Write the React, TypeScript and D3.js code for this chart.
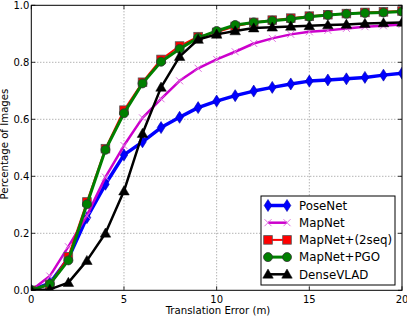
import React from 'react';
import * as d3 from 'd3';

const errors = d3.range(0, 21);
const poseNet = [0, 0.025, 0.112, 0.255, 0.372, 0.475, 0.521, 0.571, 0.607, 0.641, 0.664, 0.683, 0.699, 0.712, 0.724, 0.734, 0.738, 0.742, 0.747, 0.755, 0.762];
const mapNet = [0, 0.05, 0.153, 0.262, 0.397, 0.508, 0.605, 0.672, 0.735, 0.779, 0.81, 0.837, 0.866, 0.884, 0.898, 0.907, 0.912, 0.919, 0.925, 0.928, 0.933];
const mapNet2seq = [0, 0.02, 0.118, 0.31, 0.497, 0.632, 0.73, 0.81, 0.857, 0.89, 0.905, 0.926, 0.94, 0.948, 0.955, 0.962, 0.967, 0.971, 0.975, 0.977, 0.98];
const mapNetPGO = [0, 0.022, 0.105, 0.302, 0.493, 0.621, 0.726, 0.802, 0.847, 0.886, 0.91, 0.931, 0.94, 0.946, 0.952, 0.96, 0.966, 0.97, 0.973, 0.975, 0.978];
const denseVLAD = [0, 0.003, 0.027, 0.104, 0.2, 0.348, 0.55, 0.712, 0.82, 0.88, 0.898, 0.91, 0.92, 0.923, 0.926, 0.928, 0.931, 0.933, 0.936, 0.938, 0.94];

const xTicks = [0, 5, 10, 15, 20];
const yTicks = [0, 0.2, 0.4, 0.6, 0.8, 1.0];

const series = [
  { name: 'PoseNet', values: poseNet, color: '#0000ff', width: 3.5, marker: 'diamond' },
  { name: 'MapNet', values: mapNet, color: '#cc00cc', width: 2.5, marker: 'x' },
  { name: 'MapNet+(2seq)', values: mapNet2seq, color: '#ff0000', width: 2, marker: 'square' },
  { name: 'MapNet+PGO', values: mapNetPGO, color: '#008000', width: 3, marker: 'circle' },
  { name: 'DenseVLAD', values: denseVLAD, color: '#000000', width: 2.5, marker: 'triangle' },
];

const W = 407;
const H = 318;
const m = { left: 31.3, right: 402, top: 5.3, bottom: 290.3 };
const font = "'DejaVu Sans', sans-serif";

const Marker = ({ type, x, y, color }: { type: string; x: number; y: number; color: string }) => {
  if (type === 'diamond') {
    return <path d={`M${x},${y - 6}L${x + 3.8},${y}L${x},${y + 6}L${x - 3.8},${y}Z`} fill={color} stroke="#0000aa" strokeWidth={0.6} />;
  }
  if (type === 'x') {
    return <path d={`M${x - 3.5},${y - 3.5}L${x + 3.5},${y + 3.5}M${x - 3.5},${y + 3.5}L${x + 3.5},${y - 3.5}`} stroke="#e070e0" strokeWidth={1} fill="none" />;
  }
  if (type === 'square') {
    return <rect x={x - 4.3} y={y - 4.3} width={8.6} height={8.6} fill={color} stroke="#555" strokeWidth={0.8} />;
  }
  if (type === 'circle') {
    return <circle cx={x} cy={y} r={4.5} fill={color} stroke="#333" strokeWidth={0.8} />;
  }
  const p = d3.symbol(d3.symbolTriangle, 48)();
  return <path d={p || ''} transform={`translate(${x},${y + 0.8})`} fill={color} stroke="#000" strokeWidth={0.5} />;
};

export default function App() {
  const x = d3.scaleLinear().domain([0, 20]).range([m.left, m.right]);
  const y = d3.scaleLinear().domain([0, 1]).range([m.bottom, m.top]);
  const line = d3.line<number>().x((_, i) => x(errors[i])).y(d => y(d));

  const legX = 261;
  const legY = 196;
  const rowH = 17.2;

  return (
    <svg width={W} height={H} style={{ position: 'absolute', left: 0, top: 0, background: '#fff' }}>
      <defs>
        <clipPath id="plot">
          <rect x={m.left} y={m.top} width={m.right - m.left} height={m.bottom - m.top} />
        </clipPath>
      </defs>
      <rect x={0} y={0} width={W} height={H} fill="#fff" />
      {/* grid */}
      {xTicks.slice(1, -1).map(t => (
        <line key={'gx' + t} x1={x(t)} x2={x(t)} y1={m.top} y2={m.bottom} stroke="#777" strokeWidth={0.8} strokeDasharray="1,2" />
      ))}
      {yTicks.slice(1, -1).map(t => (
        <line key={'gy' + t} x1={m.left} x2={m.right} y1={y(t)} y2={y(t)} stroke="#777" strokeWidth={0.8} strokeDasharray="1,2" />
      ))}
      <g clipPath="url(#plot)">
        {series.map(s => (
          <g key={s.name}>
            <path d={line(s.values) || ''} fill="none" stroke={s.color} strokeWidth={s.width} strokeLinejoin="round" />
            {s.values.map((v, i) => (
              <Marker key={i} type={s.marker} x={x(errors[i])} y={y(v)} color={s.color} />
            ))}
          </g>
        ))}
      </g>
      {/* ticks */}
      {xTicks.map(t => (
        <g key={'tx' + t}>
          <line x1={x(t)} x2={x(t)} y1={m.bottom} y2={m.bottom - 4} stroke="#000" strokeWidth={0.8} />
          <line x1={x(t)} x2={x(t)} y1={m.top} y2={m.top + 4} stroke="#000" strokeWidth={0.8} />
          <text x={x(t)} y={m.bottom + 12.5} fontSize={10} fontFamily={font} textAnchor="middle">{t}</text>
        </g>
      ))}
      {yTicks.map(t => (
        <g key={'ty' + t}>
          <line x1={m.left} x2={m.left + 4} y1={y(t)} y2={y(t)} stroke="#000" strokeWidth={0.8} />
          <line x1={m.right} x2={m.right - 4} y1={y(t)} y2={y(t)} stroke="#000" strokeWidth={0.8} />
          <text x={m.left - 2} y={y(t) + 3.6} fontSize={10} fontFamily={font} textAnchor="end">{t.toFixed(1)}</text>
        </g>
      ))}
      <rect x={m.left} y={m.top} width={m.right - m.left} height={m.bottom - m.top} fill="none" stroke="#000" strokeWidth={1} />
      <text x={218} y={313.5} fontSize={10.2} fontFamily={font} textAnchor="middle">Translation Error (m)</text>
      <text transform={`translate(8.3,144) rotate(-90)`} fontSize={10.2} fontFamily={font} textAnchor="middle">Percentage of Images</text>
      {/* legend */}
      <rect x={legX} y={legY} width={134} height={89} fill="#fff" stroke="#000" strokeWidth={1} />
      {series.map((s, i) => {
        const cy = legY + 9.5 + i * rowH;
        return (
          <g key={'leg' + s.name}>
            <line x1={268} x2={287} y1={cy} y2={cy} stroke={s.color} strokeWidth={s.width} />
            <Marker type={s.marker} x={268} y={cy} color={s.color} />
            <Marker type={s.marker} x={287} y={cy} color={s.color} />
            <text x={299} y={cy + 4.2} fontSize={11.8} fontFamily={font}>{s.name}</text>
          </g>
        );
      })}
    </svg>
  );
}
